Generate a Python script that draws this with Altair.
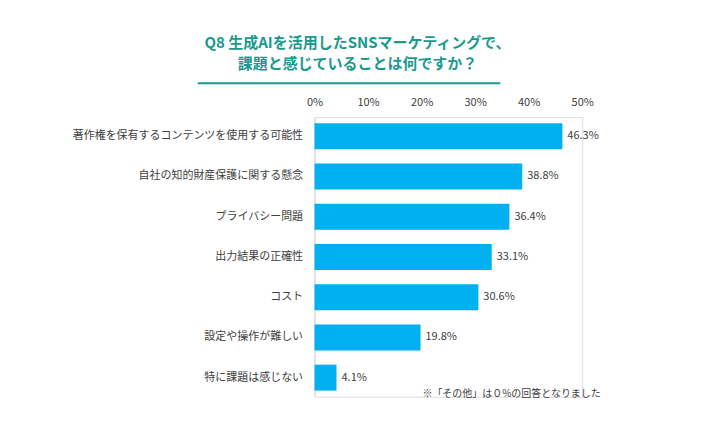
import altair as alt
import pandas as pd

categories = [
    "著作権を保有するコンテンツを使用する可能性",
    "自社の知的財産保護に関する懸念",
    "プライバシー問題",
    "出力結果の正確性",
    "コスト",
    "設定や操作が難しい",
    "特に課題は感じない",
]
values = [46.3, 38.8, 36.4, 33.1, 30.6, 19.8, 4.1]
x_ticks = [0, 10, 20, 30, 40, 50]
title_lines = ["Q8 生成AIを活用したSNSマーケティングで、", "課題と感じていることは何ですか？"]
note = "※「その他」は０%の回答となりました"

FONT = "Noto Sans CJK JP"
TEAL = "#1a9a8e"
BAR = "#00b0f0"
TXT = "#404040"

df = pd.DataFrame({"cat": categories, "val": values})
df["label"] = [f"{v:.1f}%" for v in values]

y_enc = alt.Y("cat:N", sort=categories, title=None,
              scale=alt.Scale(paddingInner=0.35, paddingOuter=0.15),
              axis=alt.Axis(labelFont=FONT, labelFontSize=11, labelColor=TXT,
                            ticks=False, labelPadding=12, domainColor="#d9d9d9",
                            domainWidth=1, grid=False, labelLimit=400))
x_enc = alt.X("val:Q", title=None,
              scale=alt.Scale(domain=[0, 50], nice=False),
              axis=alt.Axis(orient="top", values=x_ticks, labelExpr="datum.value + '%'",
                            labelFont=FONT, labelFontSize=11, labelColor=TXT,
                            labelFlush=False, ticks=False, domain=False, grid=False,
                            labelPadding=10))

bars = alt.Chart(df).mark_bar(color=BAR, size=26).encode(x=x_enc, y=y_enc)
labels = alt.Chart(df).mark_text(align="left", baseline="middle", dx=5, font=FONT,
                                 fontSize=11, color=TXT).encode(
    x=alt.X("val:Q"), y=alt.Y("cat:N", sort=categories), text="label:N")

t1 = alt.Chart(pd.DataFrame({"t": [title_lines[0]]})).mark_text(
    align="center", baseline="middle", font=FONT, fontSize=15, fontWeight="bold", color=TEAL
).encode(x=alt.value(43), y=alt.value(-74), text="t:N")
t2 = alt.Chart(pd.DataFrame({"t": [title_lines[1]]})).mark_text(
    align="center", baseline="middle", font=FONT, fontSize=15, fontWeight="bold", color=TEAL
).encode(x=alt.value(43), y=alt.value(-53), text="t:N")
underline = alt.Chart(pd.DataFrame({"t": [0]})).mark_rule(color=TEAL, strokeWidth=2).encode(
    x=alt.value(-117), x2=alt.value(186), y=alt.value(-34))
note_t = alt.Chart(pd.DataFrame({"t": [note]})).mark_text(
    align="left", baseline="middle", font=FONT, fontSize=10, color=TXT
).encode(x=alt.value(108), y=alt.value(277), text="t:N")

chart = alt.layer(bars, labels, t1, t2, underline, note_t).properties(
    width=268, height=280,
    autosize=alt.AutoSizeParams(type="none"),
    padding={"left": 307, "top": 109, "right": 130, "bottom": 20},
).configure_view(stroke=None).configure(background="white")

chart.save("out.html", embed_options={"renderer": "svg", "actions": False})
